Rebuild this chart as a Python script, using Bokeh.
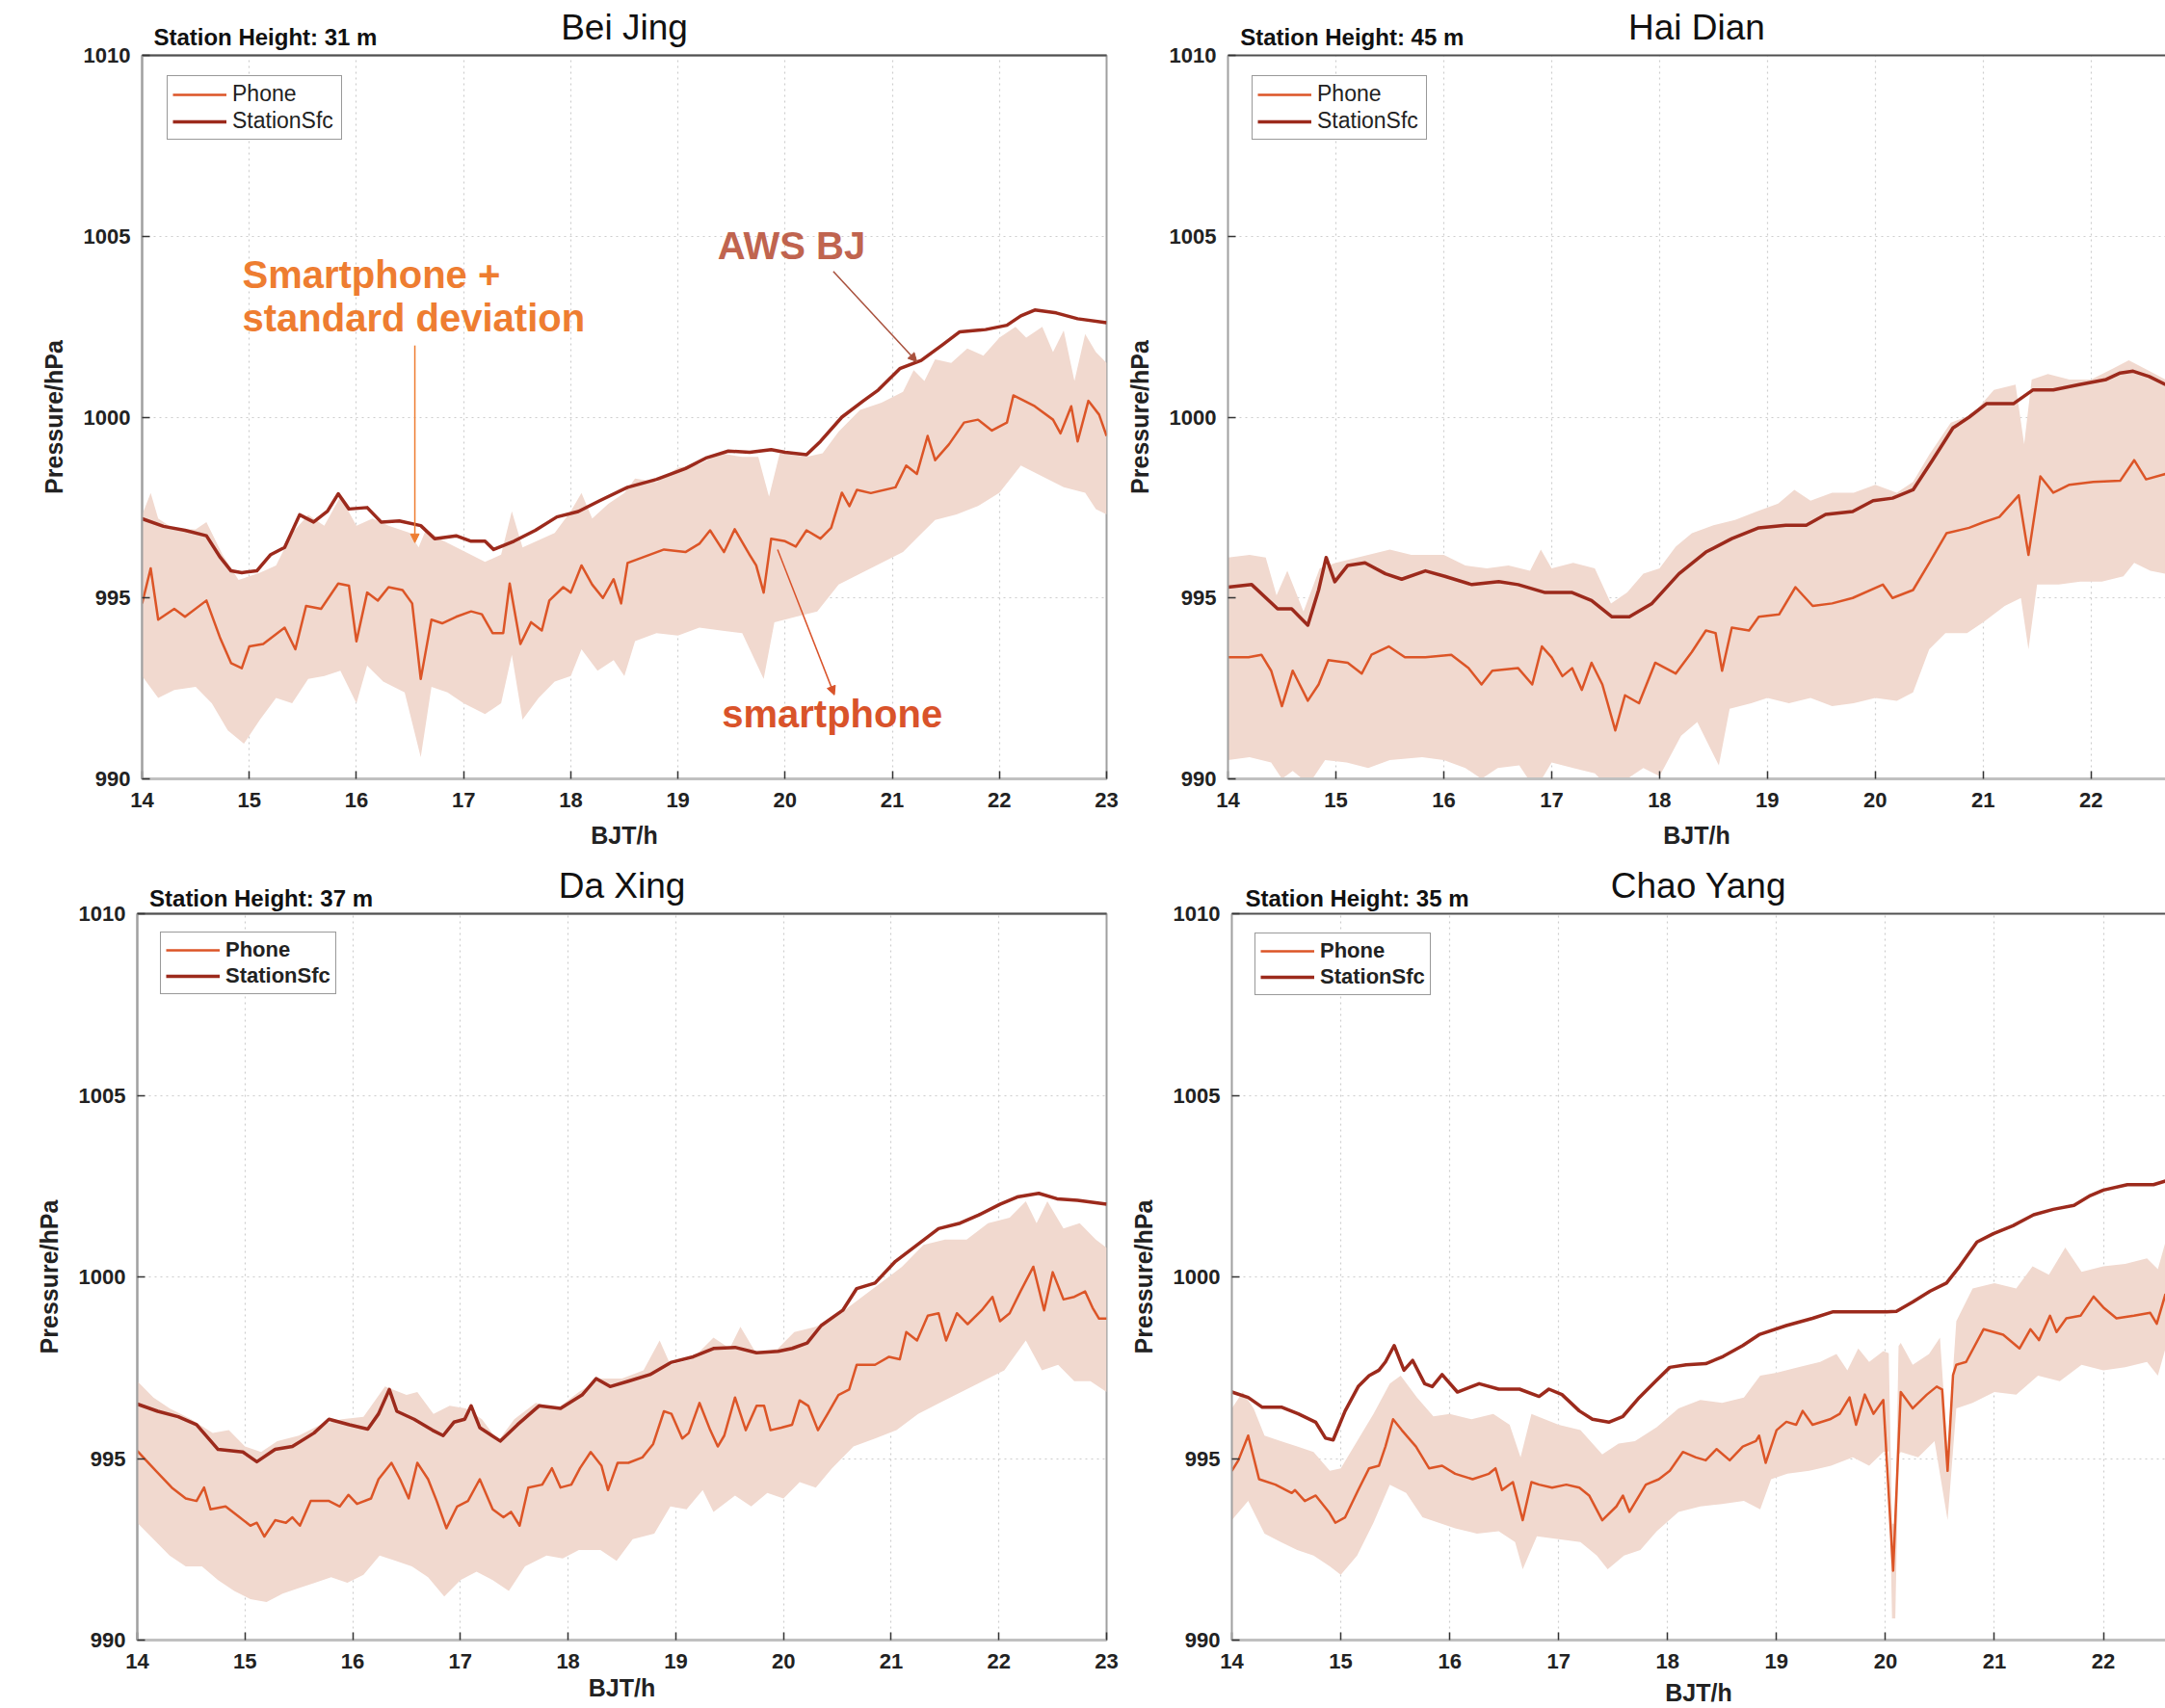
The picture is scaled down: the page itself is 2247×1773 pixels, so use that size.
from bokeh.plotting import figure
from bokeh.models import (Range1d, FixedTicker, LinearAxis, Label, Arrow, NormalHead,
                          Legend, LegendItem)
from bokeh.layouts import row, column
from bokeh.embed import file_html
from bokeh.resources import INLINE

FONT = "Liberation Sans"
HOURS = list(range(14, 24))
PRESSURE_TICKS = [990, 995, 1000, 1005, 1010]
X_LABEL = "BJT/h"
Y_LABEL = "Pressure/hPa"
LEGEND_LABELS = ["Phone", "StationSfc"]
STATION_TEXT_HOUR = 15.15  # where the "Station Height" note is centred along the top axis

STATION_COLOR = "#9c2a1c"
PHONE_COLOR = "#dc5527"
BAND_COLOR = "#f1d9cf"

# ---------------- Bei Jing (31 m) ----------------
BJ_STATION = [(14.0, 997.19), (14.2, 996.98), (14.4, 996.87), (14.6, 996.72), (14.73, 996.12), (14.83, 995.75),
              (14.93, 995.70), (15.07, 995.75), (15.2, 996.2), (15.33, 996.4), (15.47, 997.3), (15.6, 997.1),
              (15.73, 997.4), (15.83, 997.88), (15.93, 997.46), (16.1, 997.5), (16.23, 997.1), (16.4, 997.13),
              (16.6, 997.0), (16.73, 996.64), (16.93, 996.72), (17.07, 996.57), (17.2, 996.57), (17.28, 996.34),
              (17.47, 996.57), (17.67, 996.87), (17.87, 997.24), (18.07, 997.39), (18.27, 997.69), (18.53, 998.06),
              (18.8, 998.28), (19.07, 998.58), (19.27, 998.88), (19.47, 999.06), (19.67, 999.03), (19.87, 999.1),
              (20.0, 999.03), (20.2, 998.96), (20.33, 999.33), (20.53, 1000.0), (20.73, 1000.45), (20.87, 1000.75),
              (21.07, 1001.34), (21.27, 1001.57), (21.47, 1002.0), (21.63, 1002.36), (21.87, 1002.42),
              (22.07, 1002.54), (22.2, 1002.8), (22.33, 1002.96), (22.53, 1002.88), (22.73, 1002.72), (23.0, 1002.61)]
BJ_PHONE = [(14.0, 994.85), (14.08, 995.82), (14.15, 994.4), (14.3, 994.7), (14.4, 994.48), (14.6, 994.93),
            (14.73, 993.88), (14.83, 993.2), (14.93, 993.06), (15.0, 993.66), (15.13, 993.73), (15.33, 994.18),
            (15.43, 993.58), (15.53, 994.78), (15.67, 994.7), (15.83, 995.4), (15.93, 995.34), (16.0, 993.8),
            (16.1, 995.15), (16.2, 994.93), (16.3, 995.3), (16.43, 995.22), (16.52, 994.85), (16.6, 992.76),
            (16.7, 994.4), (16.8, 994.3), (16.93, 994.48), (17.07, 994.63), (17.17, 994.55), (17.27, 994.03),
            (17.37, 994.03), (17.43, 995.4), (17.53, 993.73), (17.63, 994.33), (17.73, 994.1), (17.8, 994.93),
            (17.93, 995.3), (18.0, 995.15), (18.1, 995.9), (18.2, 995.37), (18.3, 995.0), (18.4, 995.52),
            (18.47, 994.85), (18.53, 995.97), (18.67, 996.12), (18.87, 996.34), (19.07, 996.27), (19.2, 996.5),
            (19.3, 996.87), (19.43, 996.27), (19.53, 996.9), (19.67, 996.19), (19.73, 995.9), (19.8, 995.15),
            (19.87, 996.64), (20.0, 996.57), (20.1, 996.42), (20.2, 996.87), (20.33, 996.64), (20.43, 996.94),
            (20.53, 997.91), (20.6, 997.54), (20.67, 997.99), (20.8, 997.9), (21.03, 998.06), (21.13, 998.66),
            (21.23, 998.43), (21.33, 999.48), (21.4, 998.81), (21.53, 999.25), (21.67, 999.85), (21.8, 999.93),
            (21.93, 999.63), (22.07, 999.85), (22.13, 1000.6), (22.33, 1000.3), (22.5, 999.93), (22.57, 999.55),
            (22.67, 1000.3), (22.73, 999.33), (22.83, 1000.45), (22.93, 1000.07), (23.0, 999.48)]
BJ_UPPER = [(14.0, 997.3), (14.08, 997.9), (14.15, 997.2), (14.3, 996.9), (14.5, 996.9), (14.6, 997.1),
            (14.75, 996.2), (14.9, 995.5), (15.1, 995.7), (15.25, 995.9), (15.4, 996.8), (15.55, 997.3),
            (15.7, 997.0), (15.85, 997.8), (16.0, 997.0), (16.15, 997.2), (16.3, 997.0), (16.5, 996.8),
            (16.58, 996.4), (16.65, 996.9), (16.8, 996.6), (17.0, 996.3), (17.2, 996.0), (17.35, 996.2),
            (17.45, 997.4), (17.55, 996.4), (17.7, 996.6), (17.85, 996.8), (18.0, 997.4), (18.1, 997.9),
            (18.2, 997.2), (18.35, 997.6), (18.5, 997.9), (18.6, 998.3), (18.8, 998.2), (19.0, 998.6),
            (19.2, 998.7), (19.4, 999.0), (19.6, 998.9), (19.75, 998.9), (19.85, 997.8), (19.95, 999.0),
            (20.2, 998.9), (20.35, 999.0), (20.5, 999.6), (20.7, 1000.2), (20.9, 1000.4), (21.1, 1000.7),
            (21.2, 1001.3), (21.3, 1001.0), (21.4, 1001.6), (21.55, 1001.5), (21.7, 1001.9), (21.85, 1001.7),
            (22.0, 1002.2), (22.15, 1002.5), (22.25, 1002.2), (22.4, 1002.5), (22.5, 1001.8), (22.6, 1002.4),
            (22.7, 1001.0), (22.8, 1002.3), (22.9, 1001.8), (23.0, 1001.5)]
BJ_LOWER = [(14.0, 992.84), (14.15, 992.24), (14.3, 992.46), (14.5, 992.54), (14.65, 992.09), (14.8, 991.34),
            (14.95, 990.97), (15.1, 991.64), (15.25, 992.24), (15.4, 992.09), (15.55, 992.76), (15.7, 992.84),
            (15.85, 992.99), (16.0, 992.09), (16.1, 993.13), (16.25, 992.69), (16.45, 992.39), (16.6, 990.6),
            (16.7, 992.54), (16.85, 992.39), (17.0, 992.09), (17.2, 991.79), (17.35, 992.09), (17.45, 993.43),
            (17.55, 991.64), (17.7, 992.24), (17.85, 992.69), (18.0, 992.84), (18.1, 993.58), (18.25, 992.99),
            (18.4, 993.28), (18.5, 992.84), (18.6, 993.81), (18.8, 994.03), (19.0, 993.96), (19.2, 994.18),
            (19.4, 994.1), (19.6, 994.03), (19.8, 992.76), (19.9, 994.33), (20.1, 994.48), (20.3, 994.63),
            (20.5, 995.37), (20.7, 995.67), (20.9, 995.97), (21.1, 996.27), (21.25, 996.72), (21.4, 997.16),
            (21.6, 997.31), (21.8, 997.54), (22.0, 997.91), (22.2, 998.66), (22.4, 998.36), (22.6, 998.06),
            (22.8, 997.91), (22.9, 997.46), (23.0, 997.31)]

# ---------------- Hai Dian (45 m) ----------------
HD_STATION = [(14.0, 995.3), (14.22, 995.37), (14.46, 994.7), (14.59, 994.7), (14.74, 994.25), (14.84, 995.22),
              (14.91, 996.12), (14.99, 995.45), (15.11, 995.9), (15.27, 995.97), (15.46, 995.67), (15.61, 995.52),
              (15.83, 995.75), (16.01, 995.6), (16.26, 995.37), (16.51, 995.45), (16.69, 995.37), (16.94, 995.15),
              (17.19, 995.15), (17.37, 994.93), (17.56, 994.48), (17.72, 994.48), (17.93, 994.85), (18.18, 995.67),
              (18.43, 996.27), (18.67, 996.64), (18.92, 996.94), (19.17, 997.01), (19.36, 997.01), (19.54, 997.31),
              (19.79, 997.39), (19.98, 997.69), (20.16, 997.76), (20.35, 997.99), (20.53, 998.81), (20.72, 999.7),
              (20.87, 1000.0), (21.03, 1000.37), (21.28, 1000.37), (21.46, 1000.75), (21.65, 1000.75),
              (21.89, 1000.9), (22.14, 1001.04), (22.27, 1001.22), (22.39, 1001.27), (22.54, 1001.12), (22.69, 1000.9)]
HD_PHONE = [(14.0, 993.36), (14.19, 993.36), (14.31, 993.43), (14.4, 992.99), (14.5, 992.01), (14.6, 992.99),
            (14.74, 992.16), (14.84, 992.61), (14.93, 993.28), (15.11, 993.21), (15.24, 992.91), (15.33, 993.43),
            (15.49, 993.66), (15.64, 993.36), (15.83, 993.36), (16.07, 993.43), (16.23, 993.06), (16.35, 992.61),
            (16.45, 992.99), (16.69, 993.06), (16.82, 992.61), (16.91, 993.66), (17.0, 993.36), (17.1, 992.84),
            (17.19, 993.06), (17.28, 992.46), (17.37, 993.21), (17.47, 992.61), (17.59, 991.34), (17.68, 992.31),
            (17.81, 992.09), (17.96, 993.21), (18.15, 992.91), (18.3, 993.51), (18.43, 994.1), (18.52, 994.03),
            (18.58, 992.99), (18.67, 994.18), (18.83, 994.1), (18.92, 994.48), (19.11, 994.55), (19.26, 995.3),
            (19.42, 994.78), (19.6, 994.85), (19.79, 995.0), (20.07, 995.37), (20.16, 995.0), (20.35, 995.22),
            (20.5, 995.97), (20.66, 996.79), (20.87, 996.94), (21.0, 997.09), (21.15, 997.24), (21.33, 997.84),
            (21.42, 996.19), (21.53, 998.36), (21.65, 997.91), (21.8, 998.13), (22.02, 998.21), (22.27, 998.24),
            (22.4, 998.81), (22.51, 998.28), (22.69, 998.43)]
HD_UPPER = [(14.0, 996.12), (14.2, 996.19), (14.35, 996.12), (14.45, 995.07), (14.55, 995.75), (14.7, 994.63),
            (14.85, 995.82), (15.0, 995.97), (15.3, 996.19), (15.5, 996.34), (15.7, 996.19), (16.0, 996.19),
            (16.2, 995.9), (16.4, 995.82), (16.6, 995.9), (16.8, 995.75), (16.9, 996.34), (17.0, 995.82),
            (17.2, 995.97), (17.4, 995.82), (17.55, 994.85), (17.7, 995.15), (17.85, 995.67), (18.0, 995.82),
            (18.15, 996.42), (18.3, 996.79), (18.5, 997.01), (18.7, 997.16), (18.9, 997.39), (19.1, 997.61),
            (19.25, 997.99), (19.4, 997.69), (19.6, 997.91), (19.8, 997.91), (20.0, 998.13), (20.2, 997.91),
            (20.35, 998.21), (20.5, 998.96), (20.7, 999.85), (20.9, 1000.07), (21.1, 1000.75), (21.3, 1000.9),
            (21.38, 999.25), (21.45, 1001.04), (21.6, 1001.19), (21.8, 1001.04), (22.0, 1001.04), (22.2, 1001.34),
            (22.35, 1001.57), (22.5, 1001.34), (22.69, 1001.04)]
HD_LOWER = [(14.0, 990.52), (14.2, 990.6), (14.4, 990.45), (14.5, 990.0), (14.6, 990.22), (14.75, 989.85),
            (14.9, 990.52), (15.1, 990.45), (15.3, 990.3), (15.5, 990.52), (15.8, 990.6), (16.0, 990.52),
            (16.2, 990.3), (16.35, 990.0), (16.5, 990.3), (16.7, 990.37), (16.85, 989.7), (17.0, 990.45),
            (17.2, 990.3), (17.4, 990.15), (17.55, 989.7), (17.7, 990.0), (17.85, 990.3), (18.0, 990.07),
            (18.2, 991.19), (18.35, 991.57), (18.55, 990.37), (18.65, 991.94), (18.85, 992.09), (19.0, 992.24),
            (19.2, 992.09), (19.4, 992.24), (19.6, 992.01), (19.8, 992.09), (20.0, 992.24), (20.2, 992.16),
            (20.35, 992.39), (20.5, 993.58), (20.65, 994.03), (20.85, 994.03), (21.0, 994.33), (21.2, 994.78),
            (21.35, 995.0), (21.42, 993.58), (21.5, 995.37), (21.7, 995.37), (21.9, 995.45), (22.1, 995.45),
            (22.3, 995.6), (22.4, 995.97), (22.55, 995.75), (22.69, 995.67)]

# ---------------- Da Xing (37 m) ----------------
DX_STATION = [(14.0, 996.5), (14.19, 996.3), (14.38, 996.15), (14.55, 995.93), (14.75, 995.25), (14.98, 995.18),
              (15.11, 994.91), (15.28, 995.25), (15.44, 995.33), (15.64, 995.7), (15.78, 996.08), (15.97, 995.93),
              (16.14, 995.81), (16.24, 996.23), (16.34, 996.9), (16.41, 996.3), (16.57, 996.08), (16.74, 995.78),
              (16.84, 995.63), (16.94, 996.0), (17.04, 996.08), (17.1, 996.45), (17.18, 995.85), (17.37, 995.48),
              (17.53, 995.93), (17.73, 996.45), (17.93, 996.38), (18.13, 996.75), (18.26, 997.2), (18.39, 996.98),
              (18.56, 997.13), (18.76, 997.31), (18.96, 997.65), (19.16, 997.8), (19.35, 998.03), (19.55, 998.06),
              (19.75, 997.91), (19.95, 997.95), (20.08, 998.03), (20.22, 998.18), (20.35, 998.66), (20.55, 999.08),
              (20.68, 999.68), (20.85, 999.83), (21.04, 1000.43), (21.24, 1000.88), (21.44, 1001.33),
              (21.64, 1001.48), (21.81, 1001.7), (22.01, 1002.0), (22.17, 1002.2), (22.37, 1002.3),
              (22.54, 1002.15), (22.73, 1002.11), (23.0, 1002.0)]
DX_PHONE = [(14.0, 995.21), (14.15, 994.73), (14.32, 994.2), (14.45, 993.9), (14.55, 993.83), (14.62, 994.2),
            (14.68, 993.6), (14.82, 993.68), (14.95, 993.38), (15.05, 993.15), (15.11, 993.23), (15.18, 992.85),
            (15.28, 993.3), (15.38, 993.23), (15.44, 993.38), (15.51, 993.15), (15.61, 993.83), (15.78, 993.83),
            (15.88, 993.68), (15.96, 994.0), (16.04, 993.75), (16.17, 993.9), (16.24, 994.43), (16.36, 994.88),
            (16.44, 994.43), (16.52, 993.9), (16.6, 994.88), (16.7, 994.43), (16.78, 993.83), (16.87, 993.08),
            (16.97, 993.68), (17.07, 993.83), (17.18, 994.43), (17.3, 993.6), (17.4, 993.38), (17.47, 993.53),
            (17.55, 993.15), (17.63, 994.2), (17.76, 994.28), (17.85, 994.73), (17.93, 994.2), (18.03, 994.28),
            (18.11, 994.73), (18.21, 995.18), (18.31, 994.8), (18.37, 994.13), (18.46, 994.88), (18.56, 994.88),
            (18.69, 995.03), (18.79, 995.4), (18.89, 996.3), (18.96, 996.23), (19.06, 995.55), (19.12, 995.7),
            (19.22, 996.53), (19.32, 995.78), (19.39, 995.33), (19.45, 995.63), (19.55, 996.68), (19.65, 995.78),
            (19.75, 996.45), (19.82, 996.45), (19.88, 995.78), (19.98, 995.85), (20.08, 995.93), (20.15, 996.6),
            (20.23, 996.45), (20.32, 995.78), (20.41, 996.23), (20.51, 996.75), (20.61, 996.9), (20.68, 997.58),
            (20.85, 997.58), (20.98, 997.8), (21.08, 997.73), (21.14, 998.48), (21.24, 998.25), (21.34, 998.93),
            (21.44, 999.0), (21.51, 998.25), (21.61, 999.0), (21.71, 998.7), (21.84, 999.08), (21.94, 999.45),
            (22.01, 998.78), (22.1, 999.0), (22.2, 999.6), (22.32, 1000.28), (22.42, 999.08), (22.5, 1000.13),
            (22.6, 999.38), (22.7, 999.45), (22.8, 999.6), (22.87, 999.15), (22.93, 998.85), (23.0, 998.85)]
DX_UPPER = [(14.0, 997.13), (14.15, 996.68), (14.3, 996.38), (14.5, 996.08), (14.7, 995.7), (14.85, 995.78),
            (15.0, 995.33), (15.15, 995.18), (15.3, 995.48), (15.5, 995.63), (15.7, 995.93), (15.9, 996.08),
            (16.1, 996.15), (16.3, 996.98), (16.5, 996.75), (16.6, 996.83), (16.75, 996.23), (16.9, 996.45),
            (17.05, 996.38), (17.2, 996.08), (17.35, 995.48), (17.5, 996.08), (17.7, 996.53), (17.9, 996.38),
            (18.1, 996.83), (18.3, 997.2), (18.5, 997.2), (18.7, 997.43), (18.85, 998.25), (18.95, 997.58),
            (19.15, 997.73), (19.35, 998.33), (19.5, 998.03), (19.6, 998.63), (19.75, 997.88), (19.95, 998.03),
            (20.1, 998.48), (20.3, 998.63), (20.5, 998.93), (20.7, 999.38), (20.9, 999.83), (21.1, 1000.28),
            (21.3, 1000.88), (21.5, 1001.03), (21.7, 1001.03), (21.9, 1001.48), (22.1, 1001.63), (22.25, 1002.08),
            (22.35, 1001.48), (22.45, 1002.08), (22.6, 1001.33), (22.75, 1001.48), (22.9, 1001.03), (23.0, 1000.8)]
DX_LOWER = [(14.0, 993.23), (14.15, 992.78), (14.3, 992.33), (14.45, 992.03), (14.6, 992.03), (14.75, 991.65),
            (14.9, 991.35), (15.05, 991.13), (15.2, 991.05), (15.35, 991.28), (15.5, 991.43), (15.65, 991.58),
            (15.8, 991.73), (15.95, 991.58), (16.1, 991.8), (16.25, 992.33), (16.4, 992.18), (16.55, 992.03),
            (16.7, 991.73), (16.85, 991.2), (17.0, 991.65), (17.15, 991.88), (17.3, 991.65), (17.45, 991.35),
            (17.6, 992.03), (17.8, 992.33), (17.95, 992.25), (18.1, 992.48), (18.3, 992.48), (18.45, 992.18),
            (18.6, 992.78), (18.8, 992.93), (18.95, 993.68), (19.1, 993.6), (19.25, 994.13), (19.35, 993.53),
            (19.55, 993.98), (19.7, 993.68), (19.85, 994.05), (20.0, 993.9), (20.15, 994.35), (20.3, 994.2),
            (20.45, 994.73), (20.65, 995.33), (20.85, 995.55), (21.05, 995.78), (21.25, 996.23), (21.45, 996.53),
            (21.65, 996.83), (21.85, 997.13), (22.05, 997.43), (22.25, 998.25), (22.4, 997.43), (22.55, 997.58),
            (22.7, 997.13), (22.85, 997.13), (23.0, 996.83)]

# ---------------- Chao Yang (35 m) ----------------
CY_STATION = [(14.0, 996.83), (14.15, 996.68), (14.28, 996.41), (14.46, 996.41), (14.61, 996.23), (14.77, 996.0),
              (14.86, 995.56), (14.93, 995.51), (15.04, 996.31), (15.16, 996.98), (15.26, 997.28), (15.35, 997.43),
              (15.41, 997.66), (15.49, 998.11), (15.58, 997.43), (15.66, 997.7), (15.77, 997.06), (15.84, 996.98),
              (15.93, 997.31), (16.07, 996.83), (16.27, 997.06), (16.45, 996.91), (16.64, 996.91), (16.82, 996.71),
              (16.91, 996.91), (17.03, 996.76), (17.19, 996.31), (17.31, 996.08), (17.46, 996.0), (17.59, 996.16),
              (17.74, 996.68), (17.89, 997.13), (18.02, 997.51), (18.17, 997.58), (18.35, 997.61), (18.51, 997.81),
              (18.69, 998.11), (18.84, 998.41), (19.09, 998.66), (19.33, 998.86), (19.52, 999.04), (19.76, 999.04),
              (20.01, 999.04), (20.1, 999.05), (20.25, 999.31), (20.41, 999.61), (20.56, 999.83), (20.68, 1000.29),
              (20.84, 1000.96), (20.99, 1001.19), (21.17, 1001.41), (21.36, 1001.71), (21.54, 1001.86),
              (21.73, 1001.97), (21.88, 1002.24), (22.0, 1002.39), (22.22, 1002.54), (22.46, 1002.54), (22.57, 1002.64)]
CY_PHONE = [(14.0, 994.66), (14.06, 994.95), (14.15, 995.63), (14.25, 994.43), (14.4, 994.28), (14.55, 994.05),
            (14.58, 994.13), (14.67, 993.83), (14.77, 993.98), (14.89, 993.53), (14.95, 993.23), (15.04, 993.38),
            (15.16, 994.13), (15.26, 994.73), (15.35, 994.8), (15.41, 995.33), (15.48, 996.08), (15.56, 995.78),
            (15.69, 995.33), (15.81, 994.73), (15.93, 994.8), (16.05, 994.58), (16.21, 994.43), (16.36, 994.58),
            (16.42, 994.73), (16.48, 994.13), (16.58, 994.35), (16.67, 993.3), (16.75, 994.35), (16.82, 994.28),
            (16.94, 994.2), (17.07, 994.28), (17.19, 994.2), (17.28, 993.98), (17.4, 993.3), (17.53, 993.68),
            (17.59, 993.98), (17.65, 993.53), (17.8, 994.28), (17.92, 994.43), (18.02, 994.66), (18.14, 995.18),
            (18.26, 995.03), (18.35, 994.95), (18.45, 995.26), (18.57, 994.95), (18.69, 995.33), (18.81, 995.48),
            (18.84, 995.63), (18.9, 994.88), (19.0, 995.78), (19.09, 996.01), (19.18, 995.93), (19.24, 996.31),
            (19.33, 995.93), (19.49, 996.08), (19.58, 996.23), (19.67, 996.68), (19.73, 995.93), (19.81, 996.76),
            (19.89, 996.23), (19.98, 996.61), (20.07, 991.91), (20.14, 996.83), (20.25, 996.38), (20.38, 996.76),
            (20.47, 996.98), (20.52, 996.9), (20.57, 994.66), (20.62, 997.3), (20.65, 997.58), (20.74, 997.66),
            (20.9, 998.56), (21.08, 998.41), (21.23, 998.03), (21.33, 998.56), (21.41, 998.26), (21.51, 998.93),
            (21.57, 998.48), (21.66, 998.86), (21.79, 998.93), (21.91, 999.46), (22.0, 999.16), (22.12, 998.86),
            (22.28, 998.93), (22.43, 999.01), (22.49, 998.71), (22.57, 999.53)]
CY_UPPER = [(14.0, 996.38), (14.1, 996.83), (14.2, 996.38), (14.3, 995.63), (14.45, 995.48), (14.6, 995.33),
            (14.75, 995.18), (14.9, 994.66), (15.0, 994.73), (15.15, 995.48), (15.3, 996.23), (15.45, 997.06),
            (15.55, 997.28), (15.7, 996.68), (15.85, 996.16), (16.0, 996.23), (16.2, 996.08), (16.4, 996.23),
            (16.55, 995.93), (16.65, 995.03), (16.75, 996.23), (17.0, 995.93), (17.2, 995.78), (17.4, 995.11),
            (17.55, 995.41), (17.7, 995.48), (17.9, 995.86), (18.1, 996.38), (18.3, 996.61), (18.5, 996.53),
            (18.7, 996.68), (18.85, 997.28), (19.0, 997.36), (19.2, 997.51), (19.4, 997.66), (19.55, 997.88),
            (19.65, 997.43), (19.75, 998.03), (19.85, 997.66), (19.98, 997.96), (20.03, 997.9), (20.06, 993.2),
            (20.09, 993.2), (20.12, 998.1), (20.14, 998.18), (20.25, 997.58), (20.4, 997.88), (20.5, 998.33),
            (20.57, 995.18), (20.65, 998.78), (20.8, 999.68), (21.0, 999.83), (21.2, 999.68), (21.35, 1000.29),
            (21.5, 1000.06), (21.65, 1000.81), (21.8, 1000.14), (22.0, 1000.29), (22.2, 1000.36), (22.4, 1000.51),
            (22.5, 1000.21), (22.57, 1000.96)]
CY_LOWER = [(14.0, 993.3), (14.15, 993.83), (14.3, 992.93), (14.45, 992.7), (14.6, 992.48), (14.75, 992.33),
            (14.9, 992.03), (15.0, 991.8), (15.15, 992.33), (15.3, 993.23), (15.45, 994.28), (15.6, 994.05),
            (15.75, 993.38), (15.9, 993.23), (16.05, 993.08), (16.25, 992.93), (16.45, 993.0), (16.6, 992.7),
            (16.67, 991.95), (16.8, 992.86), (17.0, 992.78), (17.2, 992.7), (17.35, 992.33), (17.45, 991.95),
            (17.6, 992.33), (17.75, 992.48), (17.9, 993.0), (18.1, 993.53), (18.3, 993.68), (18.5, 993.75),
            (18.7, 993.83), (18.85, 993.6), (18.95, 994.43), (19.1, 994.58), (19.3, 994.66), (19.5, 994.8),
            (19.7, 995.03), (19.85, 994.8), (19.98, 995.18), (20.03, 995.2), (20.06, 990.6), (20.09, 990.6),
            (20.12, 995.1), (20.14, 995.18), (20.3, 995.03), (20.45, 995.48), (20.57, 993.3), (20.65, 996.38),
            (20.8, 996.53), (21.0, 996.83), (21.2, 996.76), (21.4, 997.28), (21.6, 997.13), (21.8, 997.58),
            (22.0, 997.43), (22.2, 997.51), (22.4, 997.66), (22.5, 997.28), (22.57, 998.03)]

# ---------------- annotations of the Bei Jing panel ----------------
SD_TEXT = ["Smartphone +", "standard deviation"]
SD_TEXT_POS = [(14.935, 1003.95), (14.935, 1002.73)]
SD_ARROW = (16.545, 1001.98, 16.545, 996.53)
AWS_TEXT = "AWS BJ"
AWS_TEXT_POS = (19.37, 1004.73)
AWS_ARROW = (20.45, 1004.03, 21.23, 1001.53)
PH_TEXT = "smartphone"
PH_TEXT_POS = (19.41, 991.81)
PH_ARROW = (19.93, 996.34, 20.46, 992.32)
SD_COLOR = "#ee7d31"
AWS_COLOR = "#c0644f"
PH_TEXT_COLOR = "#d9532a"


def split(pairs):
    return [a for a, _ in pairs], [b for _, b in pairs]


def style_axis(ax, color, width):
    ax.axis_line_color = color
    ax.axis_line_width = width
    ax.major_tick_in = 8
    ax.major_tick_out = 0
    ax.major_tick_line_color = "#333333"
    ax.major_tick_line_width = 1.5
    ax.minor_tick_line_color = None
    ax.major_label_text_font = FONT
    ax.major_label_text_font_size = "22px"
    ax.major_label_text_font_style = "bold"
    ax.major_label_text_color = "#222222"


def make_panel(title, station_height, station, phone, upper, lower, *, width, height, bl, br, bt, bb,
               x_end, boxed, bold_legend, top_label_standoff, title_standoff, xlabel_standoff,
               legend_dx, legend_dy):
    frame_h = height - bt - bb
    p = figure(width=width, height=height, x_range=Range1d(14, x_end), y_range=Range1d(990, 1010),
               output_backend="svg", toolbar_location=None,
               min_border_left=bl, min_border_right=br, min_border_top=bt, min_border_bottom=bb)
    p.background_fill_color = "white"
    p.border_fill_color = "white"
    p.outline_line_color = "#a0a0a0" if boxed else None
    p.outline_line_width = 2

    p.xaxis.ticker = FixedTicker(ticks=HOURS)
    p.yaxis.ticker = FixedTicker(ticks=PRESSURE_TICKS)
    style_axis(p.xaxis[0], "#c0c0c0", 3)
    style_axis(p.yaxis[0], "#a0a0a0", 2)
    p.xaxis.major_label_standoff = 14
    p.xaxis.axis_label = X_LABEL
    p.xaxis.axis_label_text_font = FONT
    p.xaxis.axis_label_text_font_size = "25px"
    p.xaxis.axis_label_text_font_style = "bold"
    p.xaxis.axis_label_text_color = "#222222"
    p.xaxis.axis_label_standoff = xlabel_standoff
    p.yaxis.major_label_standoff = 12
    p.yaxis.axis_label = Y_LABEL
    p.yaxis.axis_label_text_font = FONT
    p.yaxis.axis_label_text_font_size = "25px"
    p.yaxis.axis_label_text_font_style = "bold"
    p.yaxis.axis_label_text_color = "#222222"
    p.yaxis.axis_label_standoff = 14

    # top border line, carrying the station-height note (as its one tick label) and the panel title
    top = LinearAxis(ticker=FixedTicker(ticks=[STATION_TEXT_HOUR]),
                     major_label_overrides={STATION_TEXT_HOUR: f"Station Height: {station_height} m"},
                     axis_label=title)
    top.axis_line_color = "#505050"
    top.axis_line_width = 2
    top.major_tick_line_color = None
    top.minor_tick_line_color = None
    top.major_tick_in = 0
    top.major_tick_out = 0
    top.major_label_standoff = top_label_standoff
    top.major_label_text_font = FONT
    top.major_label_text_font_size = "24px"
    top.major_label_text_font_style = "bold"
    top.major_label_text_color = "#111111"
    top.axis_label_text_font = FONT
    top.axis_label_text_font_size = "37px"
    top.axis_label_text_font_style = "normal"
    top.axis_label_text_color = "#111111"
    top.axis_label_standoff = title_standoff
    p.add_layout(top, "above")

    p.grid.grid_line_color = "#cdcdcd"
    p.grid.grid_line_dash = "2 4"
    p.grid.grid_line_width = 1.2

    ut, up = split(upper)
    lt, lp = split(lower)
    p.patch(ut + lt[::-1], up + lp[::-1], fill_color=BAND_COLOR, line_color=None)
    st, sp = split(station)
    pt, pp = split(phone)
    r_st = p.line(st, sp, line_color=STATION_COLOR, line_width=3.5, line_join="round")
    r_ph = p.line(pt, pp, line_color=PHONE_COLOR, line_width=2.5, line_join="round")

    leg_h = 66
    legend = Legend(items=[LegendItem(label=LEGEND_LABELS[0], renderers=[r_ph]),
                           LegendItem(label=LEGEND_LABELS[1], renderers=[r_st])],
                    location=(legend_dx, frame_h - legend_dy - leg_h))
    legend.label_text_font = FONT
    legend.label_text_font_size = "22px" if bold_legend else "23px"
    legend.label_text_font_style = "bold" if bold_legend else "normal"
    legend.label_text_color = "#222222"
    legend.glyph_width = 56
    legend.glyph_height = 24
    legend.label_height = 24
    legend.label_width = 108
    legend.label_standoff = 6
    legend.padding = 5
    legend.spacing = 1
    legend.margin = 0
    legend.border_line_color = "#333333"
    legend.border_line_width = 1.5
    legend.background_fill_color = "white"
    legend.background_fill_alpha = 1.0
    p.add_layout(legend)
    return p


p1 = make_panel("Bei Jing", 31, BJ_STATION, BJ_PHONE, BJ_UPPER, BJ_LOWER, width=1161, height=884,
                bl=147, br=13, bt=57, bb=76, x_end=23, boxed=True, bold_legend=False,
                top_label_standoff=6, title_standoff=-27, xlabel_standoff=12, legend_dx=26, legend_dy=22)
p2 = make_panel("Hai Dian", 45, HD_STATION, HD_PHONE, HD_UPPER, HD_LOWER, width=1086, height=884,
                bl=113, br=0, bt=57, bb=76, x_end=22.69, boxed=False, bold_legend=False,
                top_label_standoff=6, title_standoff=-27, xlabel_standoff=12, legend_dx=25, legend_dy=22)
p3 = make_panel("Da Xing", 37, DX_STATION, DX_PHONE, DX_UPPER, DX_LOWER, width=1161, height=889,
                bl=142, br=13, bt=64, bb=65, x_end=23, boxed=True, bold_legend=True,
                top_label_standoff=3, title_standoff=-24, xlabel_standoff=3, legend_dx=24, legend_dy=24)
p4 = make_panel("Chao Yang", 35, CY_STATION, CY_PHONE, CY_UPPER, CY_LOWER, width=1086, height=889,
                bl=117, br=0, bt=60, bb=70, x_end=22.57, boxed=False, bold_legend=True,
                top_label_standoff=3, title_standoff=-24, xlabel_standoff=8, legend_dx=24, legend_dy=24)

# Bei Jing annotations
for txt, (tx, ty) in zip(SD_TEXT, SD_TEXT_POS):
    p1.add_layout(Label(x=tx, y=ty, text=txt, text_font=FONT, text_font_size="40px", text_font_style="bold",
                        text_color=SD_COLOR, text_align="left", text_baseline="middle"))
p1.add_layout(Label(x=AWS_TEXT_POS[0], y=AWS_TEXT_POS[1], text=AWS_TEXT, text_font=FONT, text_font_size="40px",
                    text_font_style="bold", text_color=AWS_COLOR, text_align="left", text_baseline="middle"))
p1.add_layout(Label(x=PH_TEXT_POS[0], y=PH_TEXT_POS[1], text=PH_TEXT, text_font=FONT, text_font_size="40px",
                    text_font_style="bold", text_color=PH_TEXT_COLOR, text_align="left", text_baseline="middle"))
for (xs, ys, xe, ye), c in [(SD_ARROW, SD_COLOR), (AWS_ARROW, "#a8503c"), (PH_ARROW, PH_TEXT_COLOR)]:
    p1.add_layout(Arrow(end=NormalHead(size=9, fill_color=c, line_color=c), x_start=xs, y_start=ys,
                        x_end=xe, y_end=ye, line_color=c, line_width=1.5))

layout = column(row(p1, p2), row(p3, p4))
open("out.html", "w").write(file_html(layout, INLINE))
